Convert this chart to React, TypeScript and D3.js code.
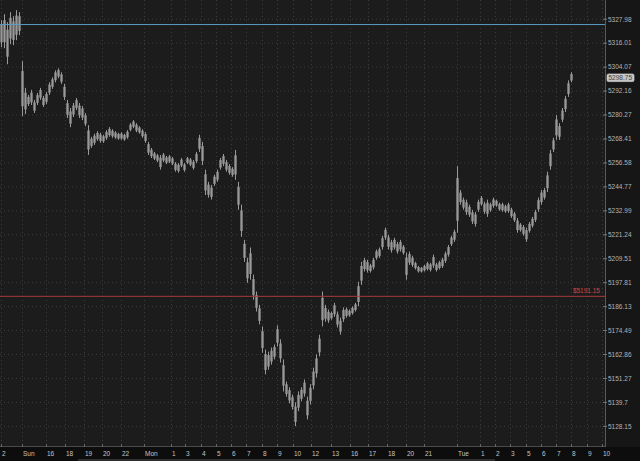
import React from "react";
import * as d3 from "d3";

// Bar highs / lows (price), one bar per slot
const highs = [
  5327.5, 5330.5, 5326.5, 5331.5, 5329.5, 5332.5, 5331.5, 5307.0, 5293.75, 5290.25,
  5292.75, 5287.75, 5291.25, 5293.75, 5289.75, 5291.75, 5296.5, 5299.0, 5302.5, 5303.5,
  5301.5, 5295.75, 5287.75, 5283.75, 5286.25, 5288.75, 5286.25, 5284.75, 5281.25, 5275.25,
  5269.5, 5271.0, 5272.25, 5271.5, 5270.5, 5272.75, 5274.25, 5273.25, 5272.25, 5271.5,
  5271.75, 5271.0, 5272.75, 5276.25, 5277.75, 5276.25, 5274.75, 5273.25, 5271.75, 5267.0,
  5264.0, 5262.0, 5261.0, 5260.5, 5261.5, 5260.0, 5260.5, 5259.5, 5257.0, 5256.5,
  5259.0, 5256.5, 5259.5, 5259.0, 5258.0, 5262.0, 5270.5, 5267.0, 5253.25, 5247.25,
  5245.75, 5250.75, 5253.25, 5259.0, 5261.0, 5258.0, 5256.0, 5254.5, 5263.0, 5247.25,
  5236.0, 5218.75, 5210.0, 5215.0, 5201.75, 5193.5, 5187.0, 5176.5, 5165.25, 5164.25,
  5166.25, 5167.75, 5177.0, 5170.25, 5160.5, 5149.75, 5147.0, 5143.5, 5139.75, 5145.0,
  5147.0, 5150.75, 5142.5, 5148.5, 5156.5, 5163.0, 5172.5, 5193.5, 5187.0, 5184.75,
  5183.75, 5188.0, 5183.75, 5180.75, 5185.75, 5185.75, 5184.75, 5186.25, 5188.0, 5198.25,
  5208.0, 5210.0, 5209.0, 5207.0, 5210.0, 5214.0, 5215.0, 5220.75, 5224.75, 5221.25,
  5218.75, 5219.75, 5217.75, 5218.75, 5216.25, 5212.5, 5213.0, 5211.0, 5208.0, 5206.0,
  5205.5, 5206.5, 5208.0, 5207.5, 5211.5, 5207.5, 5208.5, 5210.0, 5213.0, 5216.25,
  5220.75, 5223.75, 5255.0, 5243.25, 5239.5, 5238.5, 5236.0, 5233.5, 5232.5, 5238.5,
  5240.25, 5237.5, 5238.5, 5237.0, 5239.5, 5238.5, 5237.0, 5237.0, 5236.0, 5237.0,
  5234.5, 5232.5, 5229.5, 5227.0, 5226.0, 5224.75, 5227.5, 5230.0, 5233.5, 5239.5,
  5243.25, 5244.25, 5252.25, 5263.0, 5269.0, 5280.25, 5276.25, 5283.75, 5289.75, 5297.5,
  5301.5,
];
const lows = [
  5314.0, 5313.5, 5305.5, 5315.5, 5315.0, 5317.5, 5320.0, 5279.75, 5280.75, 5284.75,
  5285.25, 5281.25, 5285.25, 5287.75, 5284.25, 5285.75, 5290.25, 5293.25, 5296.5, 5298.5,
  5295.75, 5287.75, 5278.75, 5274.25, 5279.25, 5282.75, 5278.75, 5277.75, 5274.75, 5260.5,
  5264.0, 5265.5, 5267.5, 5266.5, 5266.5, 5268.0, 5269.5, 5269.0, 5268.5, 5268.0,
  5268.0, 5267.5, 5268.5, 5272.25, 5273.75, 5271.75, 5271.0, 5269.0, 5266.5, 5260.5,
  5259.0, 5258.0, 5257.0, 5253.25, 5257.0, 5256.0, 5256.5, 5255.5, 5252.25, 5251.75,
  5254.5, 5252.25, 5256.0, 5255.0, 5253.25, 5256.5, 5262.0, 5255.5, 5240.75, 5239.5,
  5238.5, 5245.25, 5247.25, 5253.25, 5255.0, 5252.25, 5250.75, 5249.75, 5248.25, 5233.5,
  5220.25, 5208.0, 5197.75, 5199.25, 5189.5, 5183.75, 5177.5, 5163.75, 5153.25, 5155.5,
  5158.0, 5160.5, 5166.75, 5159.0, 5145.0, 5142.5, 5139.25, 5136.25, 5128.25, 5135.5,
  5140.25, 5142.5, 5131.5, 5138.75, 5146.0, 5151.75, 5162.0, 5176.5, 5178.75, 5178.25,
  5179.75, 5181.25, 5176.0, 5172.5, 5178.75, 5180.75, 5181.25, 5182.25, 5183.75, 5186.25,
  5196.75, 5203.25, 5202.75, 5202.75, 5204.25, 5209.0, 5210.0, 5214.0, 5218.75, 5214.0,
  5212.5, 5214.0, 5212.0, 5213.0, 5211.5, 5199.25, 5206.5, 5205.5, 5204.25, 5202.75,
  5202.75, 5203.25, 5203.75, 5203.25, 5205.0, 5203.25, 5204.25, 5205.0, 5207.5, 5210.5,
  5215.75, 5217.75, 5222.25, 5236.0, 5233.5, 5231.0, 5230.0, 5226.5, 5225.25, 5232.5,
  5235.5, 5231.5, 5230.0, 5232.5, 5234.5, 5235.0, 5233.0, 5232.5, 5232.0, 5232.0,
  5229.5, 5227.5, 5222.25, 5222.75, 5220.75, 5217.75, 5222.25, 5224.75, 5227.5, 5232.5,
  5236.0, 5238.5, 5242.25, 5253.25, 5262.0, 5268.0, 5268.0, 5276.75, 5281.75, 5289.25,
  5296.5,
];

const lastPrice = 5298.75;
const bluePrice = 5325.3;
const redPrice = 5191.15;

const yTicks = [
  5327.98, 5316.01, 5304.07, 5292.16, 5280.27, 5268.41, 5256.58, 5244.77, 5232.99,
  5221.24, 5209.51, 5197.81, 5186.13, 5174.49, 5162.86, 5151.27, 5139.7, 5128.15,
];
const yTickLabels = [
  "5327.98", "5316.01", "5304.07", "5292.16", "5280.27", "5268.41", "5256.58", "5244.77", "5232.99",
  "5221.24", "5209.51", "5197.81", "5186.13", "5174.49", "5162.86", "5151.27", "5139.7", "5128.15",
];

// x tick positions in bar-slot units, and their labels
const xTickSlots = [
  0.33, 7.33, 15.33, 21.67, 28, 34, 40.33, 48, 57, 61.67, 67, 72, 77, 82, 87.33, 92.33, 97.67,
  103.67, 110.33, 116.67, 122.67, 129, 135.33, 141.33, 152.33, 160, 165, 170, 175.33, 180.33,
  185.33, 190.33, 195.67, 200.67,
];
const xTickLabels = [
  "2", "Sun", "16", "18", "19", "20", "22", "Mon", "1", "3", "4", "5", "6", "7", "8", "9", "10",
  "12", "13", "16", "17", "18", "20", "21", "Tue", "1", "2", "3", "5", "6", "7", "8", "9", "10",
];

const W = 640;
const H = 461;
const plotRight = 605;
const plotBottom = 447;
const font = "'Liberation Sans', Arial, sans-serif";

export default function App() {
  const x = d3.scaleLinear().domain([0, 202]).range([0, 606]);
  const y = d3.scaleLog().domain([5128.15, 5327.98]).range([426.4, 19.2]);

  const bars = highs.map((h, i) => ({ i, h, l: lows[i] }));

  return (
    <div style={{ position: "fixed", left: 0, top: 0 }}>
      <svg width={W} height={H} style={{ display: "block" }}>
        <rect x={0} y={0} width={W} height={H} fill="#1c1c1c" />
        <rect x={plotRight} y={0} width={W - plotRight} height={plotBottom} fill="#161616" />
        <rect x={0} y={plotBottom} width={W} height={H - plotBottom} fill="#0d0d0d" />
        <rect x={78} y={459} width={417} height={2} fill="#2e2e2e" />

        {/* horizontal grid */}
        {yTicks.map((t, k) => (
          <line key={"hg" + k} x1={0} x2={plotRight} y1={y(t)} y2={y(t)}
            stroke="#3c3c3c" strokeWidth={1} strokeDasharray="1 3" />
        ))}
        {/* vertical grid */}
        {xTickSlots.map((s, k) => (
          <line key={"vg" + k} x1={Math.round(x(s)) + 0.5} x2={Math.round(x(s)) + 0.5} y1={0} y2={plotBottom}
            stroke="#3c3c3c" strokeWidth={1} strokeDasharray="1 3" />
        ))}

        {/* price bars */}
        {bars.map((b) => {
          const x0 = x(b.i);
          const w = x(b.i + 1) - x0;
          const top = y(b.h);
          const bot = y(b.l);
          const hgt = Math.max(1, bot - top);
          return (
            <g key={"b" + b.i}>
              <rect x={x0} width={w} y={top + hgt * 0.18} height={Math.max(1, hgt * 0.64)} fill="#6f6f6f" />
              <rect x={x0 + 1} width={1} y={top} height={hgt} fill="#999999" />
            </g>
          );
        })}

        {/* reference lines */}
        <line x1={0} x2={plotRight} y1={y(bluePrice)} y2={y(bluePrice)} stroke="#5b9dc4" strokeWidth={1} />
        <line x1={0} x2={plotRight} y1={y(redPrice)} y2={y(redPrice)} stroke="#a53a3a" strokeWidth={1} />
        <text x={600} y={y(redPrice) - 3} fill="#d24a4a" fontSize={6.5} fontFamily={font} textAnchor="end">
          {"$" + redPrice.toFixed(2)}
        </text>

        {/* axes frame */}
        <line x1={plotRight + 0.5} x2={plotRight + 0.5} y1={0} y2={plotBottom} stroke="#5a5a5a" />
        <line x1={0} x2={plotRight} y1={plotBottom - 0.5} y2={plotBottom - 0.5} stroke="#4a4a4a" />

        {/* y axis */}
        {yTicks.map((t, k) => (
          <g key={"yt" + k}>
            <line x1={plotRight - 2} x2={plotRight + 2} y1={y(t)} y2={y(t)} stroke="#777" />
            <text x={608} y={y(t) + 2.3} fill="#b4b4b4" fontSize={6.5} fontFamily={font}>
              {yTickLabels[k]}
            </text>
          </g>
        ))}
        <rect x={607} y={y(lastPrice) - 3.8} width={27} height={7.6} rx={1.5} fill="#c4c4c4" stroke="#e6e6e6" strokeWidth={0.6} />
        <text x={608.5} y={y(lastPrice) + 2.3} fill="#444" fontSize={6.5} fontFamily={font}>
          {lastPrice.toFixed(2)}
        </text>

        {/* x axis */}
        {xTickSlots.map((s, k) => (
          <g key={"xt" + k}>
            <line x1={Math.round(x(s)) + 0.5} x2={Math.round(x(s)) + 0.5} y1={plotBottom - 3} y2={plotBottom}
              stroke="#666" />
            <text x={x(s) + 1} y={455.5} fill="#c4c4c4" fontSize={6.5} fontFamily={font}>
              {xTickLabels[k]}
            </text>
          </g>
        ))}
      </svg>
    </div>
  );
}
